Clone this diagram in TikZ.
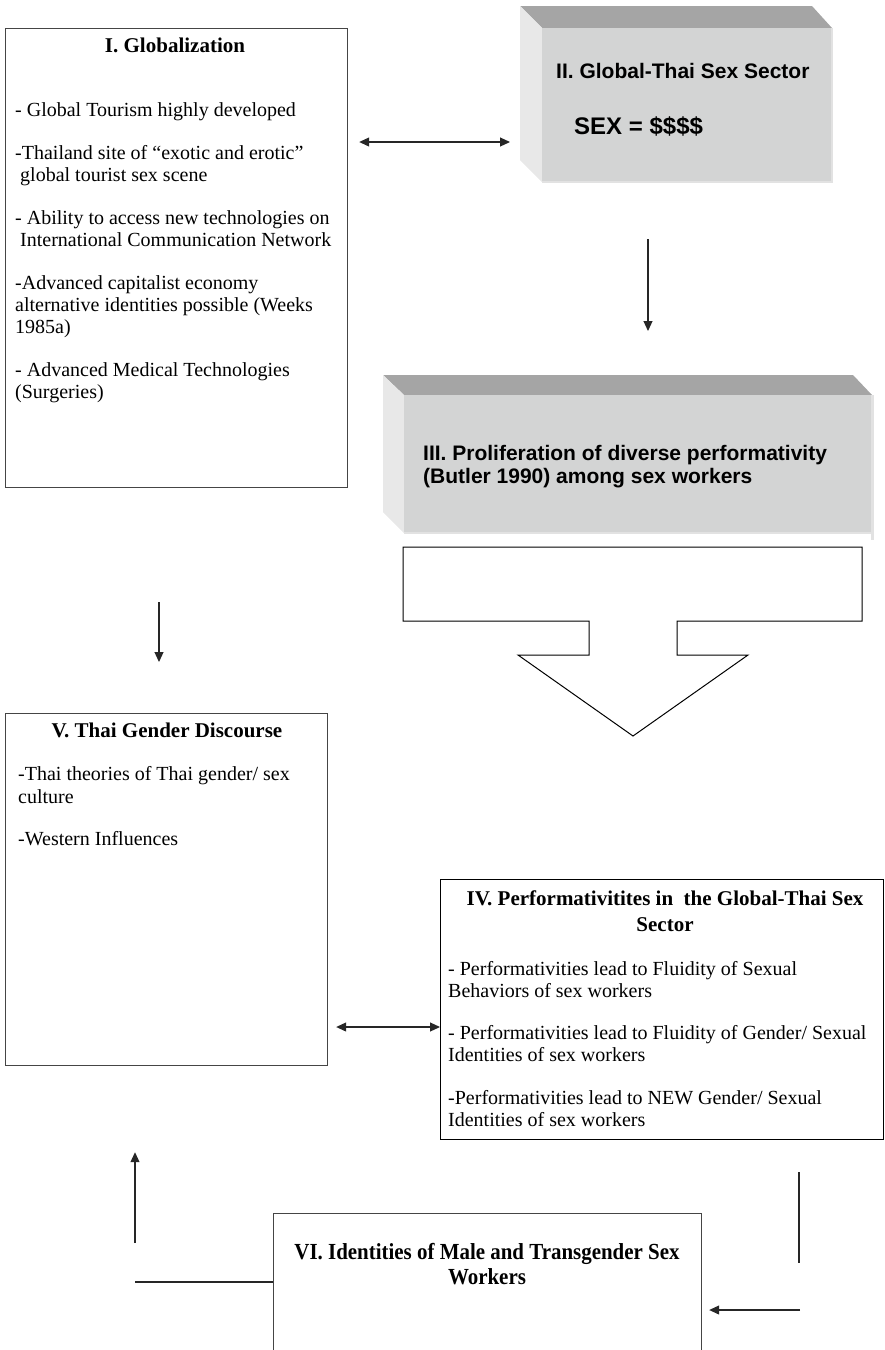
\documentclass[tikz,border=0pt]{standalone}
\usepackage{fontspec}
\setmainfont{Liberation Serif}
\newfontfamily\sansb{Liberation Sans}
\newfontfamily\condserif[FakeStretch=0.91]{Liberation Serif}
\usetikzlibrary{arrows.meta,calc}
\definecolor{bevtop}{HTML}{A5A5A5}
\definecolor{bevfront}{HTML}{D3D4D4}
\definecolor{bevleft}{HTML}{E8E8E8}
\definecolor{bevedge}{HTML}{E2E2E2}
\definecolor{boxline}{HTML}{454545}
\tikzset{
  box/.style={draw=boxline, line width=1.2pt, fill=white, inner sep=0pt, anchor=north west},
  txt/.style={inner sep=0pt, align=left, anchor=north west},
  arr/.style={draw=black!85, line width=1.1pt},
  tipend/.style={-{Triangle[length=10pt,width=9pt]}},
  tipboth/.style={{Triangle[length=10pt,width=9pt]}-{Triangle[length=10pt,width=9pt]}},
}
\begin{document}
\begin{tikzpicture}[x=1pt,y=-1pt]
\useasboundingbox (0,0) rectangle (885,1350);
\clip (0,0) rectangle (885,1350);

% ---------- Box I ----------
\node[box, minimum width=342pt, minimum height=459pt] (glob) at (5,28) {};
\node[inner sep=0pt, anchor=base, font=\fontsize{21}{25}\selectfont\bfseries] (globT) at (175,52) {I. Globalization};
\node[txt, font=\fontsize{20}{22.3}\selectfont] (globB) at (15,100.4) {\strut- Global Tourism highly developed\\[20.5pt]
-Thailand site of “exotic and erotic”\\
\hspace*{5pt}global tourist sex scene\\[20.5pt]
- Ability to access new technologies on\\
\hspace*{5pt}International Communication Network\\[20.5pt]
-Advanced capitalist economy\\
alternative identities possible (Weeks\\
1985a)\\[20.5pt]
- Advanced Medical Technologies\\
(Surgeries)};

% ---------- Box II (bevelled) ----------
\fill[bevtop] (520,6) -- (812,6) -- (832,28) -- (542,28) -- cycle;
\fill[bevleft] (520,6) -- (542,28) -- (542,182) -- (520,160) -- cycle;
\fill[bevfront] (542,28) rectangle (832,182);
\draw[bevedge, line width=1.5pt] (832,28) -- (832,182) -- (542,182);
\node[inner sep=0pt, minimum width=312pt, minimum height=176pt, anchor=north west] (sector) at (520,6) {};
\node[inner sep=0pt, anchor=base west, font=\sansb\fontsize{21}{25}\selectfont\bfseries] (sectorT) at (556,78) {II. Global-Thai Sex Sector};
\node[inner sep=0pt, anchor=base west, font=\sansb\fontsize{24}{28}\selectfont\bfseries] (sectorS) at (574,134) {SEX = \$\$\$\$};

% ---------- Box III (bevelled) ----------
\fill[bevtop] (383,375) -- (853,375) -- (872,395) -- (404,395) -- cycle;
\fill[bevleft] (383,375) -- (404,395) -- (404,533) -- (383,512) -- cycle;
\fill[bevfront] (404,395) rectangle (872,533);
\draw[bevedge, line width=1.5pt] (404,533) -- (872,533);
\fill[bevedge] (871,395) rectangle (874,540);
\node[inner sep=0pt, minimum width=491pt, minimum height=158pt, anchor=north west] (prolif) at (383,375) {};
\node[txt, font=\sansb\fontsize{21}{21.7}\selectfont\bfseries] (prolifT) at (423,445.3) {\strut III. Proliferation of diverse performativity\\
(Butler 1990) among sex workers};

% ---------- Big block arrow ----------
\draw[black, line width=1pt, fill=white] (403,547) -- (862,547) -- (862,621) -- (677,621) -- (677,655) -- (748,655) -- (633,736) -- (518,655) -- (589,655) -- (589,621) -- (403,621) -- cycle;

% ---------- Box V ----------
\node[box, minimum width=322pt, minimum height=352pt] (thai) at (5,713) {};
\node[inner sep=0pt, anchor=base, font=\fontsize{21}{25}\selectfont\bfseries] (thaiT) at (167,737) {V. Thai Gender Discourse};
\node[txt, font=\fontsize{20}{22.6}\selectfont] (thaiB) at (18,764.9) {\strut-Thai theories of Thai gender/ sex\\
culture\\[19.8pt]
-Western Influences};

% ---------- Box IV ----------
\node[box, draw=black, minimum width=443pt, minimum height=260pt] (perf) at (440,879) {};
\node[inner sep=0pt, align=center, anchor=north, font=\fontsize{21}{26}\selectfont\bfseries] (perfT) at (665,887.3) {\strut IV. Performativitites in\ \ the Global-Thai Sex\\Sector};
\node[txt, font=\fontsize{20}{22}\selectfont] (perfB) at (448,959.6) {\strut- Performativities lead to Fluidity of Sexual\\
Behaviors of sex workers\\[20.5pt]
- Performativities lead to Fluidity of Gender/ Sexual\\
Identities of sex workers\\[20.5pt]
-Performativities lead to NEW Gender/ Sexual\\
Identities of sex workers};

% ---------- Box VI ----------
\node[box, minimum width=428pt, minimum height=150pt] (ident) at (273,1213) {};
\node[inner sep=0pt, align=center, anchor=north, font=\condserif\fontsize{23}{25}\selectfont\bfseries] (identT) at (487,1241.5) {\strut VI. Identities of Male and Transgender Sex\\Workers};

% ---------- Connectors ----------
\draw[arr, tipboth, shorten <=11pt, shorten >=10pt] (glob.east |- 0,142) -- (sector.west |- 0,142);
\draw[arr, tipend, shorten <=57pt, shorten >=44pt] (sector.south -| 648,0) -- (prolif.north -| 648,0);
\draw[arr, tipend, shorten <=114pt, shorten >=51pt] (glob.south -| 159,0) -- (thai.north -| 159,0);
\draw[arr, tipboth, shorten <=8pt] (thai.east |- 0,1027) -- (perf.west |- 0,1027);

\coordinate (rdown) at (799,1263);
\draw[arr, shorten <=32pt] (perf.south -| rdown) -- (rdown);
\coordinate (rback) at (800,1310);
\draw[arr, tipend, shorten >=7pt] (rback) -- (ident.east |- rback);

\coordinate (lside) at (135,1282);
\draw[arr] (ident.west |- lside) -- (lside);
\coordinate (lup) at (135,1243);
\draw[arr, tipend, shorten >=86pt] (lup) -- (thai.south -| lup);
\end{tikzpicture}
\end{document}
